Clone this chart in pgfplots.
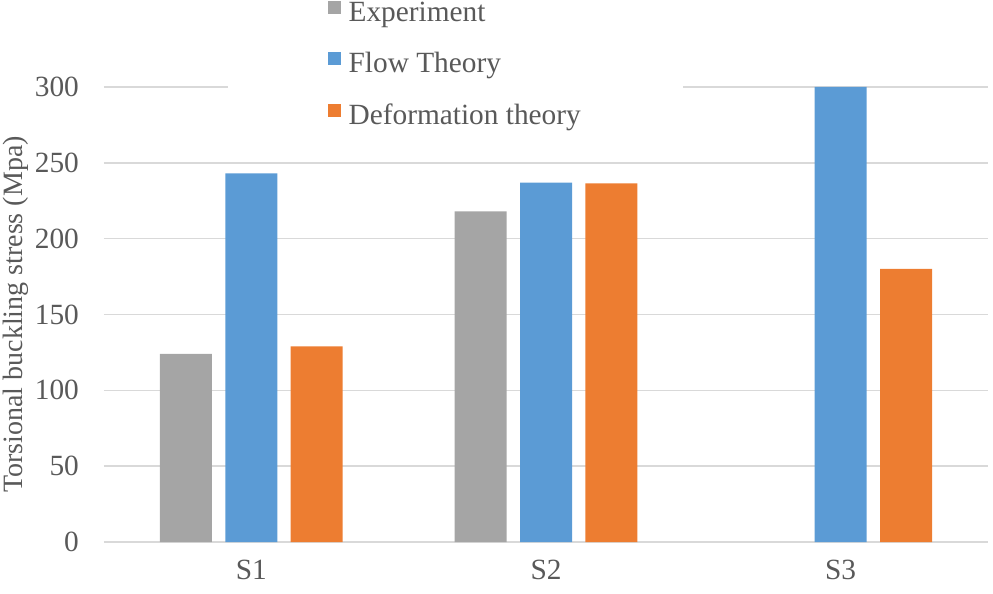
\documentclass[border=0pt]{standalone}
\usepackage{pgfplots}
\pgfplotsset{compat=1.18}
\usepackage{fontspec}
\setmainfont{Liberation Serif}
\definecolor{cexp}{RGB}{165,165,165}
\definecolor{cflow}{RGB}{91,155,213}
\definecolor{cdef}{RGB}{237,125,49}
\definecolor{cgrid}{RGB}{217,217,217}
\definecolor{ctext}{RGB}{89,89,89}
\begin{document}
\begin{tikzpicture}
\begin{axis}[
  scale only axis,
  width=663pt, height=341.25pt,
  xmin=-0.5, xmax=2.5,
  ymin=0, ymax=300,
  xtick={0,1,2}, xticklabels={S1,S2,S3},
  ytick={0,50,100,150,200,250,300},
  ymajorgrids, major grid style={cgrid, line width=1.1pt},
  axis line style={draw=none},
  major tick length=0pt,
  ybar=10pt, bar width=39pt,
  font=\fontsize{22}{26}\selectfont,
  /pgf/number format/assume math mode=true,
  tick label style={text=ctext, font=\fontsize{22}{26}\selectfont},
  yticklabel style={xshift=-15.3pt},
  xticklabel style={yshift=-10pt},
  ylabel={Torsional buckling stress (Mpa)},
  every axis y label/.style={at={(axis description cs:-0.1002,0.5)}, rotate=90, anchor=center, text=ctext, font=\fontsize{21}{25}\selectfont},
  legend style={at={(rel axis cs:0.1403,1.197)}, anchor=north west, fill=white, draw=none,
    inner xsep=75pt, inner ysep=1pt, row sep=18pt,
    font=\fontsize{22}{26}\selectfont, text=ctext,
    nodes={inner sep=2pt},
    /tikz/every odd column/.append style={column sep=3.5pt}},
  legend cell align=left,
  legend image code/.code={\fill[#1] (0pt,-0.9pt) rectangle (9.75pt,8.85pt);},
  clip=false,
]
\addplot[fill=cexp, draw=none] coordinates {(0,124) (1,218)};
\addplot[fill=cflow, draw=none] coordinates {(0,243) (1,237) (2,300)};
\addplot[fill=cdef, draw=none] coordinates {(0,129) (1,236.5) (2,180)};
\legend{Experiment, Flow Theory, Deformation theory}
\end{axis}
\pgfresetboundingbox
\path (-78pt,-38.25pt) rectangle (666.75pt,406.5pt);
\end{tikzpicture}
\end{document}
